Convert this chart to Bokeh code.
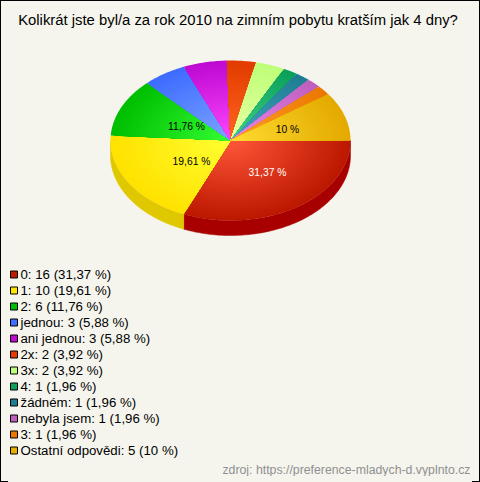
import math
from bokeh.plotting import figure
from bokeh.core.properties import value
from bokeh.embed import file_html
from bokeh.resources import INLINE

title = "Kolikrát jste byl/a za rok 2010 na zimním pobytu kratším jak 4 dny?"
source = "zdroj: https://preference-mladych-d.vyplnto.cz"
names = ["0", "1", "2", "jednou", "ani jednou", "2x", "3x", "4", "žádném", "nebyla jsem", "3", "Ostatní odpovědi"]
counts = [16, 10, 6, 3, 3, 2, 2, 1, 1, 1, 1, 5]
percents = ["31,37", "19,61", "11,76", "5,88", "5,88", "3,92", "3,92", "1,96", "1,96", "1,96", "1,96", "10"]
outer = [(188, 24, 0), (255, 226, 0), (0, 190, 0), (62, 108, 255), (190, 10, 210), (226, 60, 0),
         (190, 255, 120), (10, 160, 90), (30, 125, 145), (190, 95, 190), (235, 120, 0), (228, 170, 0)]
inner = [(255, 88, 58), (255, 255, 50), (52, 255, 52), (125, 165, 255), (255, 72, 255), (255, 102, 32),
         (232, 255, 165), (70, 210, 140), (70, 165, 195), (235, 135, 235), (255, 160, 40), (255, 220, 50)]
legend_colors = [(190, 28, 0), (255, 230, 0), (0, 190, 0), (64, 110, 255), (192, 12, 210), (228, 60, 0),
                 (192, 255, 124), (12, 160, 92), (32, 125, 145), (190, 95, 190), (235, 120, 0), (230, 175, 0)]
wall_colors = ["#A80000", "#E0C800"]
label_colors = ["#FFFFFF", "#000000", "#000000", None, None, None, None, None, None, None, None, "#000000"]
label_at = [(267, 172), (191, 161), (186, 126), None, None, None, None, None, None, None, None, (287, 129)]

BG = "#F5F5EE"
CX, CY, RX, RY, DEPTH = 230, 140, 120, 80, 15
RINGS = 40


def hex_of(c):
    return "#%02X%02X%02X" % tuple(int(round(v)) for v in c)


p = figure(width=464, height=468, x_range=(8, 472), y_range=(476, 8), toolbar_location=None,
           output_backend="svg", min_border=0, background_fill_color=BG, border_fill_color=BG,
           outline_line_color=None)
p.axis.visible = False
p.grid.visible = False

total = sum(counts)
edges = [0.0]
for c in counts:
    edges.append(edges[-1] + 2 * math.pi * c / total)

# side wall (only the front half is visible)
for i, col in enumerate(wall_colors):
    a0, a1 = edges[i], min(edges[i + 1], math.pi)
    n = 90
    ang = [a0 + (a1 - a0) * k / n for k in range(n + 1)]
    xs = [CX + RX * math.cos(a) for a in ang]
    top = [CY + RY * math.sin(a) for a in ang]
    bot = [t + DEPTH for t in top]
    p.patch(xs + xs[::-1], top + bot[::-1], fill_color=col, line_color=col, line_width=0.5)

# top face: nested sectors give the radial shading
xss, yss, fills = [], [], []
for i in range(len(counts)):
    a0, a1 = edges[i], edges[i + 1]
    n = max(6, int((a1 - a0) * 60))
    for r in range(RINGS, 0, -1):
        t = r / RINGS
        ang = [a0 + (a1 - a0) * k / n for k in range(n + 1)]
        xss.append([CX] + [CX + RX * t * math.cos(a) for a in ang])
        yss.append([CY] + [CY + RY * t * math.sin(a) for a in ang])
        fills.append(hex_of([inner[i][j] + (outer[i][j] - inner[i][j]) * t for j in range(3)]))
p.patches(xss, yss, fill_color=fills, line_color=None)

for i, at in enumerate(label_at):
    if at:
        p.text([at[0]], [at[1]], text=[percents[i] + " %"], text_font=value("Liberation Sans"),
               text_font_size="10.3px", text_color=label_colors[i], text_align="center",
               text_baseline="middle")

p.text([237.5], [19], text=[title], text_font=value("Liberation Sans"), text_font_size="14.85px",
       text_color="#000000", text_align="center", text_baseline="middle")

ys = [274 + 16 * i for i in range(len(names))]
p.rect([13.5] * len(names), ys, width=7, height=7, fill_color=[hex_of(c) for c in legend_colors],
       line_color="#000000", line_width=1)
p.text([20] * len(names), ys, text=[f"{n}: {c} ({q} %)" for n, c, q in zip(names, counts, percents)],
       text_font=value("Liberation Sans"), text_font_size="13.25px", text_color="#000000",
       text_baseline="middle")

p.text([470], [469.5], text=[source], text_font=value("Liberation Sans"), text_font_size="12.3px",
       text_color="#909090", text_align="right", text_baseline="middle")

html = file_html(p, INLINE)
frame = ("<style>html{height:100%;box-sizing:border-box;border:1px solid #000;background:" + BG +
         ";overflow:hidden}body{margin:7px 7px 0 7px;background:" + BG + "}</style></head>")
html = html.replace("</head>", frame, 1)
open("out.html", "w").write(html)
